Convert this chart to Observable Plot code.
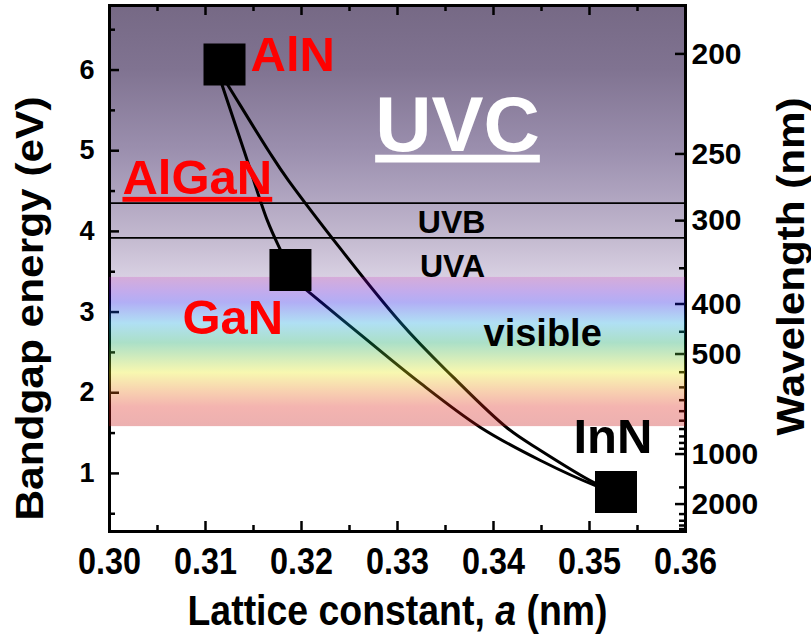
<!DOCTYPE html>
<html><head><meta charset="utf-8">
<script src="https://cdn.jsdelivr.net/npm/d3@7"></script>
<script src="https://cdn.jsdelivr.net/npm/@observablehq/plot@0.6"></script>
<style>body{margin:0;background:#fff;}</style>
</head><body><div id="chart"></div>
<script>
// ---- data ----
const materials = ["AlN", "GaN", "InN"];
const latticeA = [0.31198, 0.31885, 0.35276];
const bandgap = [6.07, 3.52, 0.77];

// AlGaN (AlN -> GaN)
const alganA = [0.31151, 0.31177, 0.31406, 0.31646, 0.31781, 0.31885];
const alganE = [5.90, 5.80, 4.985, 4.13, 3.77, 3.52];
// InGaN (GaN -> InN)
const inganA = [0.31969, 0.32059, 0.32615, 0.33205, 0.33865, 0.34490, 0.35063, 0.35276];
const inganE = [3.35, 3.265, 2.72, 2.15, 1.57, 1.16, 0.85, 0.77];
// AlInN (AlN -> InN)
const alinnA = [0.31135, 0.31240, 0.31656, 0.31865, 0.33031, 0.33583, 0.34146, 0.34490, 0.35042, 0.35276];
const alinnE = [6.00, 5.80, 5.00, 4.63, 2.87, 2.19, 1.56, 1.285, 0.89, 0.77];

const uvTop = 6.8;
const uvBoundaries = [4.35, 3.92];      // UVC/UVB, UVB/UVA
const visibleBand = [1.58, 3.43];        // bottom, top (eV)

const xMajor = [0.30, 0.31, 0.32, 0.33, 0.34, 0.35, 0.36];
const xMinor = [0.305, 0.315, 0.325, 0.335, 0.345, 0.355];
const yMajor = [1, 2, 3, 4, 5, 6];
const yMinor = [0.5, 1.5, 2.5, 3.5, 4.5, 5.5, 6.5];
const wlMajor = [200, 250, 300, 400, 500, 1000, 2000];
const wlMinor = [350, 450, 550, 600, 650, 700, 750, 800, 850, 900, 950, 1500, 2500, 3000, 3500, 4000];

const labelText = ["AlN", "UVC", "AlGaN", "UVB", "UVA", "GaN", "visible", "InN"];
const labelA = [0.31469, 0.33625, 0.30135, 0.33563, 0.33573, 0.30760, 0.33896, 0.34833];
const labelE = [5.99, 5.00, 4.465, 3.98, 3.44, 2.73, 2.58, 1.25];

// ---- build ----
const zip = (a, e, name) => a.map((v, i) => ({a: v, e: e[i], s: name}));
const curves = [...zip(alganA, alganE, "AlGaN"), ...zip(inganA, inganE, "InGaN"), ...zip(alinnA, alinnE, "AlInN")];
const points = materials.map((m, i) => ({m, a: latticeA[i], e: bandgap[i]}));
const labelStyle = {
  AlN: {fill: "#ff0000", size: 49, anchor: "start"},
  UVC: {fill: "#ffffff", size: 78, anchor: "middle"},
  AlGaN: {fill: "#ff0000", size: 49, anchor: "start"},
  UVB: {fill: "#000000", size: 32, anchor: "middle"},
  UVA: {fill: "#000000", size: 32, anchor: "middle"},
  GaN: {fill: "#ff0000", size: 49, anchor: "start"},
  visible: {fill: "#000000", size: 38, anchor: "start"},
  InN: {fill: "#000000", size: 49, anchor: "start"}
};
const labels = labelText.map((t, i) => ({t, a: labelA[i], e: labelE[i]}));

const W = 811, H = 635, ML = 109, MR = 126, MT = 5, MB = 104;
const FW = W - ML - MR, FH = H - MT - MB;
const xDom = [xMajor[0], xMajor[xMajor.length - 1]];
const FONT = "Liberation Sans, Arial, sans-serif";

const labelMarks = labels.map(d => Plot.text([d], {
  x: "a", y: "e", text: "t", textAnchor: labelStyle[d.t].anchor, lineAnchor: "bottom",
  fill: labelStyle[d.t].fill, fontSize: labelStyle[d.t].size, fontWeight: "bold", fontFamily: FONT
}));

const plot = Plot.plot({
  width: W, height: H,
  marginLeft: ML, marginRight: MR, marginTop: MT, marginBottom: MB,
  x: {domain: xDom, axis: null},
  y: {domain: [0.28, uvTop], axis: null},
  style: {background: "white", overflow: "visible", fontFamily: FONT},
  marks: [
    Plot.rect([{y1: visibleBand[1], y2: uvTop}], {x1: () => xDom[0], x2: () => xDom[1], y1: "y1", y2: "y2", fill: "#123456"}),
    Plot.ruleY(uvBoundaries, {stroke: "black", strokeWidth: 1.6}),
    Plot.line(curves, {x: "a", y: "e", z: "s", stroke: "black", strokeWidth: 3, curve: "catmull-rom"}),
    Plot.tickX(xMajor, {x: d => d, insetTop: FH - 10, stroke: "black", strokeWidth: 2.5}),
    Plot.tickX(xMinor, {x: d => d, insetTop: FH - 6, stroke: "black", strokeWidth: 2.5}),
    Plot.tickX(xMajor, {x: d => d, insetBottom: FH - 10, stroke: "black", strokeWidth: 2.5}),
    Plot.tickX(xMinor, {x: d => d, insetBottom: FH - 6, stroke: "black", strokeWidth: 2.5}),
    Plot.tickY(yMajor, {y: d => d, insetRight: FW - 10, stroke: "black", strokeWidth: 2.5}),
    Plot.tickY(yMinor, {y: d => d, insetRight: FW - 6, stroke: "black", strokeWidth: 2.5}),
    Plot.tickY(wlMajor, {y: d => 1240 / d, insetLeft: FW - 10, stroke: "black", strokeWidth: 2.5}),
    Plot.tickY(wlMinor, {y: d => 1240 / d, insetLeft: FW - 6, stroke: "black", strokeWidth: 2.5}),
    Plot.frame({stroke: "black", strokeWidth: 3}),
    Plot.rect([{y1: visibleBand[0], y2: visibleBand[1]}], {x1: () => xDom[0], x2: () => xDom[1], y1: "y1", y2: "y2", fill: "#654321", fillOpacity: 0.33}),
    Plot.dot(points, {x: "a", y: "e", symbol: "square", r: 23.7, fill: "black"}),
    ...labelMarks,
    Plot.text(xMajor, {x: d => d, frameAnchor: "bottom", dy: 31, text: d => d.toFixed(2), lineAnchor: "middle", textAnchor: "middle",
      fontSize: 37, fontWeight: "bold", fontFamily: FONT}),
    Plot.text(yMajor, {y: d => d, frameAnchor: "left", dx: -15, textAnchor: "end", text: d => String(d), lineAnchor: "middle",
      fontSize: 27, fontWeight: "bold", fontFamily: FONT}),
    Plot.text(wlMajor, {y: d => 1240 / d, frameAnchor: "right", dx: 6, textAnchor: "start", text: d => String(d), lineAnchor: "middle",
      fontSize: 30, fontWeight: "bold", fontFamily: FONT}),
    Plot.text(["Bandgap energy (eV)"], {frameAnchor: "left", dx: -79, dy: 40, rotate: -90, lineAnchor: "middle", textAnchor: "middle",
      fontSize: 38, fontWeight: "bold", fontFamily: FONT}),
    Plot.text(["Wavelength (nm)"], {frameAnchor: "right", dx: 106, dy: -2, rotate: -90, lineAnchor: "middle", textAnchor: "middle",
      fontSize: 38, fontWeight: "bold", fontFamily: FONT}),
    Plot.text(["Lattice constant, a (nm)"], {frameAnchor: "bottom", dy: 93, lineAnchor: "bottom", textAnchor: "middle",
      fontSize: 42, fontWeight: "bold", fontFamily: FONT})
  ]
});

// gradients
const svg = d3.select(plot);
const defs = svg.insert("defs", ":first-child");
const uvStops = [[0, "#766985"], [0.235, "#807391"], [0.533, "#9b8fae"], [0.717, "#b1a6c1"], [0.853, "#c3b9cf"], [1, "#d8d0e2"]];
const visStops = [[0, "rgb(129,3,139)"], [0.1, "rgb(70,0,200)"], [0.17, "rgb(20,10,225)"], [0.31, "rgb(15,160,221)"],
  [0.44, "rgb(0,160,88)"], [0.64, "rgb(233,233,15)"], [0.77, "rgb(233,112,15)"], [0.87, "rgb(221,27,15)"], [1, "rgb(197,15,15)"]];
function grad(id, stops) {
  const g = defs.append("linearGradient").attr("id", id).attr("x1", 0).attr("y1", 0).attr("x2", 0).attr("y2", 1);
  stops.forEach(([o, c]) => g.append("stop").attr("offset", o).attr("stop-color", c));
}
grad("uvGrad", uvStops);
grad("visGrad", visStops);
svg.selectAll('[fill="#123456"]').attr("fill", "url(#uvGrad)");
svg.selectAll('[fill="#654321"]').attr("fill", "url(#visGrad)");

// underlines, italic, condensed widths
svg.selectAll("text").each(function () {
  const t = this.textContent;
  const s = d3.select(this);
  if (t === "UVC" || t === "AlGaN") {
    s.style("text-decoration", "underline")
      .style("text-decoration-thickness", t === "UVC" ? "4px" : "3px")
      .style("text-underline-offset", t === "UVC" ? "6px" : "4px");
  }
  if (/^0\.\d\d$/.test(t)) s.attr("textLength", 63).attr("lengthAdjust", "spacingAndGlyphs");
  if (t === "Bandgap energy (eV)") s.attr("textLength", 424).attr("lengthAdjust", "spacingAndGlyphs");
  if (t === "Wavelength (nm)") s.attr("textLength", 338).attr("lengthAdjust", "spacingAndGlyphs");
  if (t === "Lattice constant, a (nm)") {
    s.text(null);
    s.append("tspan").text("Lattice constant, ");
    s.append("tspan").attr("font-style", "italic").text("a");
    s.append("tspan").text(" (nm)");
    s.attr("textLength", 420).attr("lengthAdjust", "spacingAndGlyphs");
  }
});
document.getElementById("chart").appendChild(plot);
</script>
</body></html>
